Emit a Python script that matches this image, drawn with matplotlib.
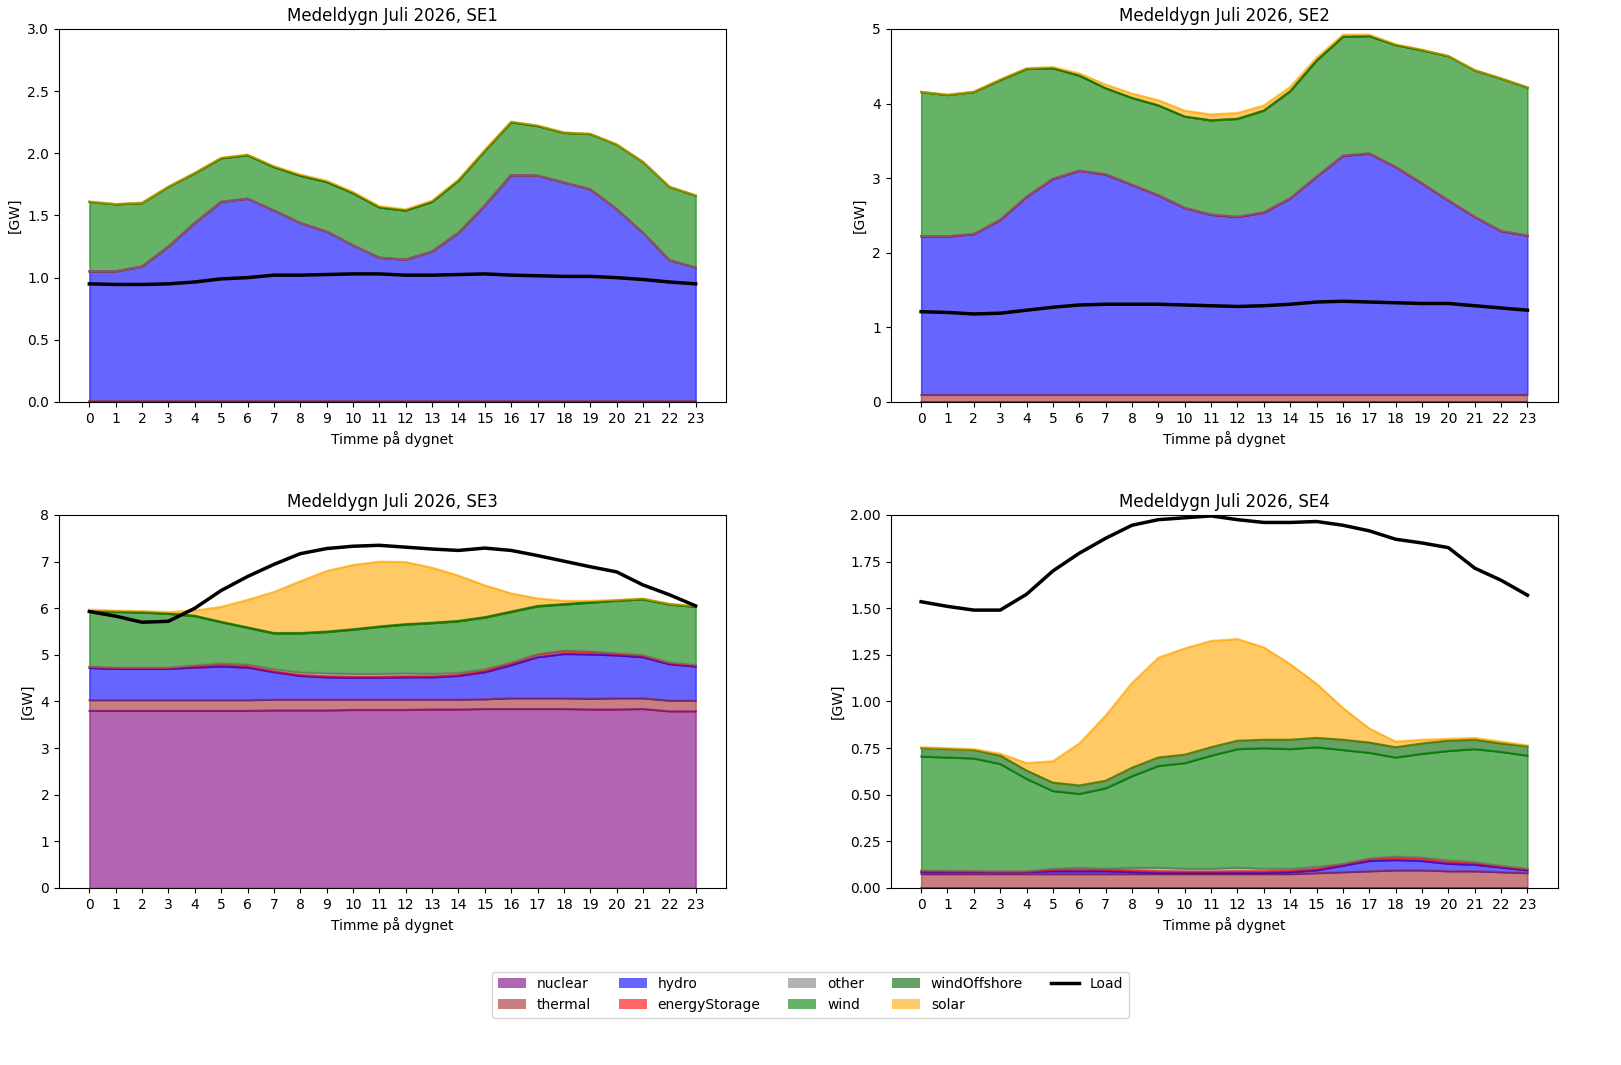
import matplotlib
matplotlib.use("Agg")
from matplotlib import pyplot as plt
from matplotlib.patches import Patch
from matplotlib.lines import Line2D
import numpy as np

hours = list(range(24))
techs = ["nuclear", "thermal", "hydro", "energyStorage", "other", "wind", "windOffshore", "solar"]
colors = ["purple", "brown", "blue", "red", "gray", "green", "darkgreen", "orange"]

# SE1
se1_nuclear = [0.0] * 24
se1_thermal = [0.005] * 24
se1_hydro = [1.045, 1.045, 1.085, 1.245, 1.435, 1.605, 1.63, 1.535, 1.435, 1.365, 1.255, 1.155,
             1.14, 1.205, 1.355, 1.575, 1.82, 1.815, 1.76, 1.705, 1.545, 1.355, 1.135, 1.075]
se1_storage = [0.0] * 24
se1_other = [0.0] * 24
se1_wind = [0.56, 0.54, 0.51, 0.48, 0.40, 0.35, 0.35, 0.35, 0.38, 0.40, 0.42, 0.405,
            0.395, 0.40, 0.42, 0.44, 0.425, 0.40, 0.40, 0.445, 0.52, 0.57, 0.59, 0.58]
se1_offshore = [0.0] * 24
se1_solar = [0.003, 0.003, 0.003, 0.003, 0.004, 0.005, 0.006, 0.008, 0.01, 0.01, 0.01, 0.01,
             0.01, 0.01, 0.01, 0.008, 0.006, 0.005, 0.004, 0.003, 0.003, 0.003, 0.003, 0.003]
se1_load = [0.95, 0.945, 0.945, 0.95, 0.965, 0.99, 1.0, 1.02, 1.02, 1.025, 1.03, 1.03,
            1.02, 1.02, 1.025, 1.03, 1.02, 1.015, 1.01, 1.01, 1.0, 0.985, 0.965, 0.95]

# SE2
se2_nuclear = [0.0] * 24
se2_thermal = [0.1] * 24
se2_hydro = [2.12, 2.12, 2.15, 2.34, 2.65, 2.89, 3.00, 2.95, 2.81, 2.67, 2.50, 2.41,
             2.38, 2.44, 2.63, 2.92, 3.20, 3.23, 3.05, 2.83, 2.60, 2.38, 2.19, 2.13]
se2_storage = [0.0] * 24
se2_other = [0.005] * 24
se2_wind = [1.93, 1.89, 1.90, 1.87, 1.71, 1.48, 1.27, 1.15, 1.16, 1.20, 1.22, 1.26,
            1.31, 1.36, 1.43, 1.55, 1.59, 1.57, 1.63, 1.78, 1.93, 1.96, 2.04, 1.98]
se2_offshore = [0.0] * 24
se2_solar = [0.005, 0.005, 0.005, 0.01, 0.01, 0.015, 0.03, 0.05, 0.06, 0.07, 0.08, 0.08,
             0.08, 0.07, 0.06, 0.04, 0.03, 0.02, 0.01, 0.01, 0.005, 0.005, 0.005, 0.005]
se2_load = [1.21, 1.20, 1.18, 1.19, 1.23, 1.27, 1.30, 1.31, 1.31, 1.31, 1.30, 1.29,
            1.28, 1.29, 1.31, 1.34, 1.35, 1.34, 1.33, 1.32, 1.32, 1.29, 1.26, 1.23]

# SE3
se3_nuclear = [3.80, 3.80, 3.80, 3.80, 3.80, 3.80, 3.80, 3.81, 3.81, 3.81, 3.82, 3.82,
               3.82, 3.83, 3.83, 3.84, 3.84, 3.84, 3.84, 3.83, 3.83, 3.84, 3.79, 3.79]
se3_thermal = [0.23, 0.23, 0.23, 0.23, 0.23, 0.23, 0.23, 0.23, 0.23, 0.23, 0.22, 0.22,
               0.22, 0.21, 0.21, 0.21, 0.23, 0.23, 0.23, 0.23, 0.24, 0.23, 0.23, 0.23]
se3_hydro = [0.69, 0.67, 0.67, 0.67, 0.70, 0.72, 0.70, 0.59, 0.51, 0.48, 0.47, 0.47,
             0.48, 0.48, 0.51, 0.58, 0.71, 0.88, 0.95, 0.95, 0.92, 0.88, 0.78, 0.73]
se3_storage = [0.02, 0.02, 0.02, 0.02, 0.03, 0.04, 0.03, 0.02, 0.02, 0.02, 0.02, 0.02,
               0.02, 0.02, 0.02, 0.03, 0.04, 0.06, 0.06, 0.05, 0.03, 0.03, 0.02, 0.02]
se3_other = [0.01, 0.01, 0.01, 0.01, 0.02, 0.03, 0.04, 0.05, 0.06, 0.07, 0.07, 0.07,
             0.07, 0.06, 0.05, 0.04, 0.02, 0.01, 0.02, 0.02, 0.02, 0.02, 0.02, 0.02]
se3_wind = [1.18, 1.19, 1.18, 1.15, 1.05, 0.88, 0.78, 0.76, 0.83, 0.88, 0.94, 1.00,
            1.04, 1.08, 1.10, 1.10, 1.08, 1.02, 0.98, 1.04, 1.12, 1.19, 1.24, 1.24]
se3_offshore = [0.01] * 24
se3_solar = [0.03, 0.02, 0.02, 0.03, 0.11, 0.32, 0.59, 0.88, 1.11, 1.30, 1.38, 1.39,
             1.33, 1.18, 0.97, 0.68, 0.39, 0.16, 0.07, 0.03, 0.01, 0.01, 0.005, 0.005]
se3_load = [5.93, 5.83, 5.70, 5.72, 6.00, 6.38, 6.68, 6.94, 7.17, 7.28, 7.33, 7.35,
            7.31, 7.27, 7.24, 7.29, 7.24, 7.13, 7.01, 6.89, 6.78, 6.50, 6.29, 6.05]

# SE4
se4_nuclear = [0.0] * 24
se4_thermal = [0.075, 0.075, 0.075, 0.075, 0.075, 0.075, 0.075, 0.075, 0.075, 0.075, 0.075, 0.075,
               0.075, 0.075, 0.075, 0.08, 0.085, 0.09, 0.095, 0.095, 0.09, 0.09, 0.085, 0.08]
se4_hydro = [0.01, 0.01, 0.01, 0.01, 0.01, 0.015, 0.015, 0.015, 0.01, 0.005, 0.005, 0.005,
             0.005, 0.005, 0.01, 0.015, 0.035, 0.055, 0.055, 0.05, 0.04, 0.035, 0.025, 0.015]
se4_storage = [0.005, 0.005, 0.003, 0.003, 0.003, 0.008, 0.01, 0.008, 0.01, 0.01, 0.008, 0.008,
               0.01, 0.01, 0.008, 0.008, 0.008, 0.01, 0.012, 0.012, 0.01, 0.008, 0.005, 0.005]
se4_other = [0.005, 0.003, 0.004, 0.002, 0.002, 0.007, 0.01, 0.007, 0.015, 0.02, 0.017, 0.017,
             0.02, 0.015, 0.012, 0.012, 0.002, 0.005, 0.008, 0.008, 0.01, 0.007, 0.005, 0.005]
se4_wind = [0.61, 0.607, 0.603, 0.575, 0.495, 0.415, 0.395, 0.43, 0.49, 0.545, 0.565, 0.605,
            0.635, 0.645, 0.64, 0.64, 0.61, 0.565, 0.53, 0.555, 0.585, 0.605, 0.61, 0.605]
se4_offshore = [0.045, 0.045, 0.045, 0.045, 0.045, 0.045, 0.045, 0.04, 0.045, 0.045, 0.045, 0.045,
                0.045, 0.045, 0.05, 0.05, 0.055, 0.055, 0.055, 0.055, 0.055, 0.05, 0.045, 0.05]
se4_solar = [0.005, 0.005, 0.005, 0.01, 0.04, 0.115, 0.225, 0.35, 0.455, 0.535, 0.57, 0.57,
             0.545, 0.495, 0.405, 0.29, 0.17, 0.075, 0.03, 0.02, 0.01, 0.01, 0.01, 0.005]
se4_load = [1.535, 1.51, 1.49, 1.49, 1.575, 1.70, 1.795, 1.875, 1.945, 1.975, 1.985, 1.995,
            1.975, 1.96, 1.96, 1.965, 1.945, 1.915, 1.87, 1.85, 1.825, 1.715, 1.65, 1.57]

areas = [
    ("SE1", [se1_nuclear, se1_thermal, se1_hydro, se1_storage, se1_other, se1_wind, se1_offshore, se1_solar], se1_load, 3),
    ("SE2", [se2_nuclear, se2_thermal, se2_hydro, se2_storage, se2_other, se2_wind, se2_offshore, se2_solar], se2_load, 5),
    ("SE3", [se3_nuclear, se3_thermal, se3_hydro, se3_storage, se3_other, se3_wind, se3_offshore, se3_solar], se3_load, 8),
    ("SE4", [se4_nuclear, se4_thermal, se4_hydro, se4_storage, se4_other, se4_wind, se4_offshore, se4_solar], se4_load, 2),
]

fig, axes = plt.subplots(2, 2, figsize=(16.21, 10.65), dpi=100)
plt.subplots_adjust(left=0.0364, right=0.961, top=0.9728, bottom=0.1662, wspace=0.247, hspace=0.303)

for ax, (name, series, load, ymax) in zip(axes.flat, areas):
    tops = np.cumsum(np.array(series), axis=0)
    lower = np.zeros(len(hours))
    for top, col in zip(tops, colors):
        # area-plot look: outline line on top of each filled layer
        ax.plot(hours, top, color=col, alpha=0.6, lw=1.5)
        ax.fill_between(hours, lower, top, color=col, alpha=0.6)
        lower = top
    ax.plot(hours, load, color="black", lw=2.5)
    ax.set_xticks(hours)
    ax.set_ylim(0, ymax)
    ax.set_title(f"Medeldygn Juli 2026, {name}")
    ax.set_xlabel("Timme på dygnet")
    ax.set_ylabel("[GW]")

handles = [Patch(facecolor=c, alpha=0.6, lw=0, label=t) for t, c in zip(techs, colors)]
handles.append(Line2D([], [], color="black", lw=2.5, label="Load"))
fig.legend(handles=handles, loc="lower center", ncol=5, bbox_to_anchor=(0.5, 0.038))
fig.savefig("out.png", dpi=100)
